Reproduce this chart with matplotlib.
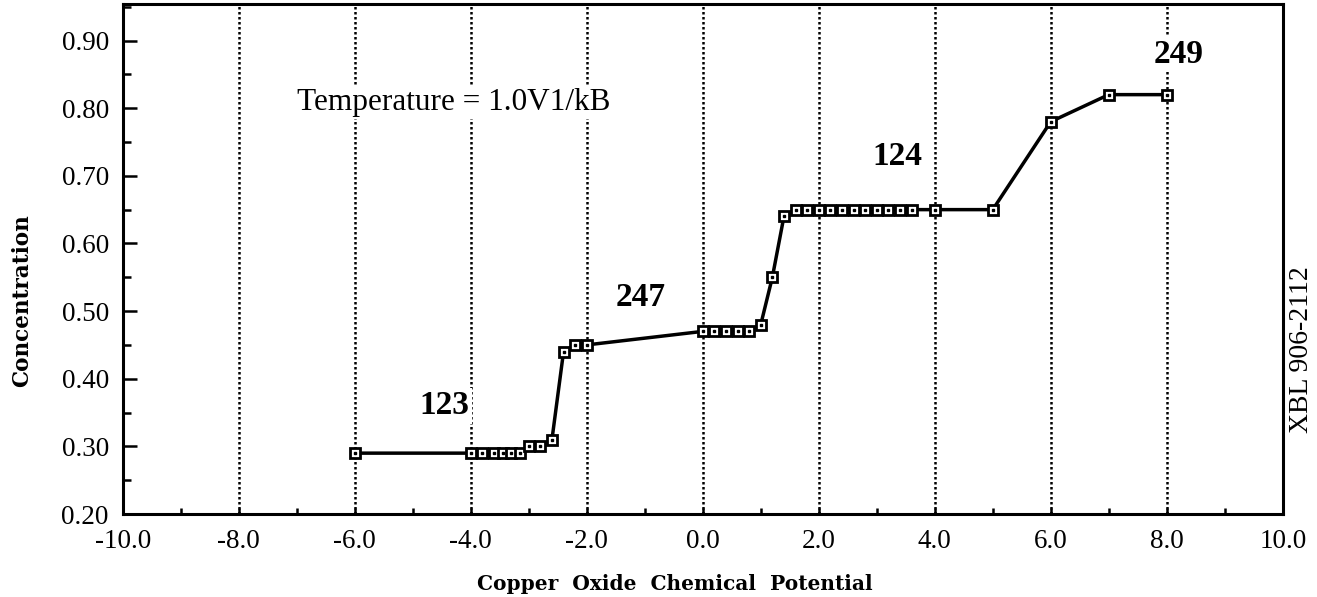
import matplotlib
matplotlib.use("Agg")
import matplotlib.pyplot as plt
from matplotlib.ticker import MultipleLocator, FormatStrFormatter

plt.rcParams["axes.unicode_minus"] = False
plt.rcParams["font.family"] = ["Liberation Serif", "DejaVu Serif"]

# Concentration vs chemical potential
potential = [-6.0, -4.0, -3.8, -3.6, -3.45, -3.3, -3.15, -3.0, -2.8, -2.6,
             -2.4, -2.2, -2.0,
             0.0, 0.2, 0.4, 0.6, 0.8, 1.0, 1.2, 1.4,
             1.6, 1.8, 2.0, 2.2, 2.4, 2.6, 2.8, 3.0, 3.2, 3.4, 3.6,
             4.0, 5.0, 6.0, 7.0, 8.0]
concentration = [0.29, 0.29, 0.29, 0.29, 0.29, 0.29, 0.29, 0.30, 0.30, 0.31,
                 0.44, 0.45, 0.45,
                 0.47, 0.47, 0.47, 0.47, 0.47, 0.48, 0.55, 0.64,
                 0.65, 0.65, 0.65, 0.65, 0.65, 0.65, 0.65, 0.65, 0.65, 0.65, 0.65,
                 0.65, 0.65, 0.78, 0.82, 0.82]

# phase labels
phase_names = ["123", "247", "124", "249"]
phase_x = [-4.46, -1.07, 3.36, 8.2]
phase_y = [0.36, 0.52, 0.728, 0.88]

grid_x = [-8, -6, -4, -2, 0, 2, 4, 6, 8]

fig = plt.figure(figsize=(13.17, 5.97), dpi=100)
ax = fig.add_axes([0.0932, 0.139, 0.974 - 0.0932, 0.9933 - 0.139])

for gx in grid_x:
    ax.axvline(gx, color="black", linestyle=(0, (1, 1)), linewidth=1.8, zorder=1)

ax.plot(potential, concentration, color="black", linewidth=2.5, zorder=3,
        marker="s", markersize=7.5, markerfacecolor="white",
        markeredgecolor="black", markeredgewidth=2.0)
ax.plot(potential, concentration, linestyle="none", marker="s", markersize=1.8,
        color="black", zorder=4)

ax.set_xlim(-10, 10)
ax.set_ylim(0.20, 0.954)

ax.xaxis.set_major_locator(MultipleLocator(2))
ax.xaxis.set_minor_locator(MultipleLocator(1))
ax.yaxis.set_major_locator(MultipleLocator(0.1))
ax.yaxis.set_minor_locator(MultipleLocator(0.05))
ax.xaxis.set_major_formatter(FormatStrFormatter("%.1f"))
ax.yaxis.set_major_formatter(FormatStrFormatter("%.2f"))

ax.tick_params(axis="both", which="both", direction="in", labelsize=19.5,
               top=False, right=False)
ax.tick_params(axis="y", which="major", length=10, width=1.8, pad=10)
ax.tick_params(axis="y", which="minor", length=6, width=1.8)
ax.tick_params(axis="x", which="major", length=4, width=1.8, pad=11)
ax.tick_params(axis="x", which="minor", length=4, width=1.8)

for sp in ax.spines.values():
    sp.set_linewidth(2.2)

box = dict(facecolor="white", edgecolor="none", pad=2)
ax.text(-7.0, 0.809, "Temperature = 1.0V1/kB", fontsize=22.5, ha="left",
        va="center", bbox=box, zorder=5)
for name, tx, ty in zip(phase_names, phase_x, phase_y):
    ax.text(tx, ty, name, fontsize=24, fontweight="bold", ha="center",
            va="center", bbox=box, zorder=5)

fig.text(0.5125, 0.022, "Copper  Oxide  Chemical  Potential",
         family="DejaVu Serif", fontweight="bold", fontsize=14.5,
         ha="center", va="center")
fig.text(0.0165, 0.497, "Concentration", family="DejaVu Serif",
         fontweight="bold", fontsize=15.5, rotation=90, ha="center", va="center")
fig.text(0.998, 0.414, "XBL 906-2112", fontsize=20, rotation=90,
         ha="right", va="center")

fig.savefig("out.png", dpi=100)
